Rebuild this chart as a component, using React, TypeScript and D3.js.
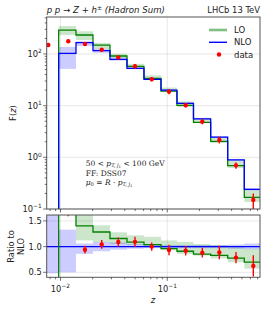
import React from "react";
import * as d3 from "d3";

// bin edges in z (bin 0 lies below 10^-2 and has no NLO prediction)
const zEdges = [0.0066, 0.00962, 0.01397, 0.02015, 0.02907, 0.04195, 0.0605, 0.0873, 0.1232, 0.1759, 0.2549, 0.3677, 0.526, 0.76];
const nloValues = [0, 103, 166, 116, 79, 52.9, 32.4, 20, 11.1, 5.55, 2.45, 0.89, 0.24];
const loValues = [0, 291, 233, 149, 91.5, 57.5, 33.7, 19.2, 10.1, 4.73, 2.03, 0.69, 0.168];
const loBandLow = [0, 233, 186, 126, 83, 54.5, 32.1, 18.6, 9.5, 4.57, 1.89, 0.62, 0.137];
const loBandHigh = [0, 348, 275, 164, 101, 64.5, 38.6, 22.4, 12.1, 5.83, 2.52, 0.88, 0.23];
const nloBandLowRatio = [0.48, 0.5, 0.86, 0.91, 0.94, 0.96, 0.97, 0.97, 0.97, 0.97, 0.97, 0.96, 0.95];
const nloBandHighRatio = [1.7, 1.33, 1.06, 1.09, 1.08, 1.05, 1.04, 1.03, 1.03, 1.03, 1.03, 1.04, 1.06];
const dataZ = [0.00769, 0.01183, 0.01696, 0.02432, 0.03477, 0.04983, 0.07145, 0.1038, 0.1487, 0.2128, 0.3072, 0.4397, 0.6389];
const dataValues = [149, 176, 156, 121, 86, 57.8, 32.4, 18.7, 10.2, 4.9, 2.17, 0.7, 0.15];
const dataRelErr = [0, 0.07, 0.08, 0.08, 0.08, 0.09, 0.08, 0.11, 0.1, 0.11, 0.15, 0.14, 0.33];
const ratioTicks = [0.5, 1.0, 1.5];

const W = 267;
const H = 312;
const left = 46.7;
const right = 260;
const mainTop = 17;
const mainBottom = 209;
const ratioTop = 215;
const ratioBottom = 277.3;

const LO_COLOR = "#008000";
const NLO_COLOR = "#0000ff";
const DATA_COLOR = "#ff0000";
const FONT = "DejaVu Sans";

const x = d3.scaleLog().domain([0.00743, 0.738]).range([left, right]);
const yMain = d3.scaleLog().domain([0.1, 520]).range([mainBottom, mainTop]);
const yRatio = d3.scaleLinear().domain([0.403, 1.615]).range([ratioBottom, ratioTop]);

const isMajor = (v: number) => Math.abs(Math.log10(v) - Math.round(Math.log10(v))) < 1e-6;

function Pow10({ exp, x0, y0, anchor }: { exp: number; x0: number; y0: number; anchor: "end" | "middle" }) {
  return (
    <text x={x0} y={y0} fontSize={8.3} fontFamily={FONT} textAnchor={anchor} fill="#222">
      10<tspan dy={-3.6} fontSize={5.9}>{exp < 0 ? "\u2212" + -exp : exp}</tspan>
    </text>
  );
}

function stepPath(values: number[], y: (v: number) => number) {
  const pts: [number, number][] = values.map((v, i) => [x(zEdges[i]), y(v)]);
  pts.push([x(zEdges[values.length]), y(values[values.length - 1])]);
  return d3.line().curve(d3.curveStepAfter)(pts) || "";
}

export default function App() {
  const safeMain = (v: number) => (v > 0 ? yMain(v) : mainBottom + 30);
  const safeRatio = (v: number) => (isFinite(v) && v > 0 ? yRatio(v) : ratioBottom + 30);

  const loRatio = loValues.map((v, i) => (nloValues[i] > 0 ? v / nloValues[i] : 0));
  const nloRatio = nloValues.map(() => 1);
  const xt = x.ticks();
  const yt = yMain.ticks();

  return (
    <svg width={W} height={H} style={{ position: "absolute", left: 0, top: 0, background: "#fff" }}>
      <defs>
        <clipPath id="clipMain">
          <rect x={left} y={mainTop} width={right - left} height={mainBottom - mainTop} />
        </clipPath>
        <clipPath id="clipRatio">
          <rect x={left} y={ratioTop} width={right - left} height={ratioBottom - ratioTop} />
        </clipPath>
      </defs>

      {/* title */}
      <text x={left} y={13} fontSize={8.6} fontFamily={FONT} fill="#222">
        <tspan fontStyle="italic">p p</tspan> → <tspan fontStyle="italic">Z</tspan> + <tspan fontStyle="italic">h</tspan>
        <tspan dy={-3.2} fontSize={6}>±</tspan>
        <tspan dy={3.2} fontStyle="italic"> (Hadron Sum)</tspan>
      </text>
      <text x={right} y={13} fontSize={8.4} fontFamily={FONT} textAnchor="end" fill="#222">LHCb 13 TeV</text>

      {/* ---------- main panel ---------- */}
      <g>
        {xt.filter(isMajor).map((t) => (
          <line key={"gx" + t} x1={x(t)} x2={x(t)} y1={mainTop} y2={mainBottom} stroke="#b0b0b0" strokeOpacity={0.35} strokeWidth={0.8} />
        ))}
        {yt.filter(isMajor).map((t) => (
          <line key={"gy" + t} x1={left} x2={right} y1={yMain(t)} y2={yMain(t)} stroke="#b0b0b0" strokeOpacity={0.35} strokeWidth={0.8} />
        ))}
        <g clipPath="url(#clipMain)">
          {loValues.map((v, i) =>
            v > 0 ? (
              <rect key={"lob" + i} x={x(zEdges[i])} width={x(zEdges[i + 1]) - x(zEdges[i])} y={yMain(loBandHigh[i])} height={yMain(loBandLow[i]) - yMain(loBandHigh[i])} fill={LO_COLOR} fillOpacity={0.2} />
            ) : null
          )}
          {nloValues.map((v, i) =>
            v > 0 ? (
              <rect key={"nlob" + i} x={x(zEdges[i])} width={x(zEdges[i + 1]) - x(zEdges[i])} y={yMain(v * nloBandHighRatio[i])} height={yMain(v * nloBandLowRatio[i]) - yMain(v * nloBandHighRatio[i])} fill={NLO_COLOR} fillOpacity={0.2} />
            ) : null
          )}
          <path d={stepPath(loValues, safeMain)} fill="none" stroke={LO_COLOR} strokeWidth={1.3} />
          <path d={stepPath(nloValues, safeMain)} fill="none" stroke={NLO_COLOR} strokeWidth={1.3} />
          {dataValues.map((v, i) => (
            <g key={"d" + i}>
              {dataRelErr[i] > 0 && (
                <line x1={x(dataZ[i])} x2={x(dataZ[i])} y1={yMain(v * (1 + dataRelErr[i]))} y2={yMain(v * (1 - dataRelErr[i]))} stroke={DATA_COLOR} strokeWidth={1.4} />
              )}
              <circle cx={x(dataZ[i])} cy={yMain(v)} r={2.2} fill={DATA_COLOR} />
            </g>
          ))}
        </g>
        <rect x={left} y={mainTop} width={right - left} height={mainBottom - mainTop} fill="none" stroke="#555" strokeWidth={1} />
        {xt.map((t) => (
          <line key={"mxt" + t} x1={x(t)} x2={x(t)} y1={mainBottom} y2={mainBottom + (isMajor(t) ? 3.5 : 2)} stroke="#333" strokeWidth={0.7} />
        ))}
        {yt.map((t) => (
          <line key={"myt" + t} x1={left} x2={left - (isMajor(t) ? 3.5 : 2)} y1={yMain(t)} y2={yMain(t)} stroke="#333" strokeWidth={0.7} />
        ))}
        {yt.filter(isMajor).map((t) => (
          <Pow10 key={"myl" + t} exp={Math.round(Math.log10(t))} x0={left - 5} y0={yMain(t) + 3} anchor="end" />
        ))}
        <text transform={`translate(16,113) rotate(-90)`} fontSize={8.4} fontFamily={FONT} textAnchor="middle" fill="#222">
          F(<tspan fontStyle="italic">z</tspan>)
        </text>

        {/* legend */}
        <line x1={209} x2={227} y1={30} y2={30} stroke={LO_COLOR} strokeOpacity={0.5} strokeWidth={2.6} />
        <text x={234} y={33} fontSize={8.5} fontFamily={FONT} fill="#222">LO</text>
        <line x1={209} x2={227} y1={42.3} y2={42.3} stroke={NLO_COLOR} strokeWidth={1.4} />
        <text x={234} y={45.3} fontSize={8.5} fontFamily={FONT} fill="#222">NLO</text>
        <circle cx={219} cy={54.5} r={2.2} fill={DATA_COLOR} />
        <text x={234} y={57.5} fontSize={8.5} fontFamily={FONT} fill="#222">data</text>

        {/* annotation */}
        <g fontFamily="DejaVu Serif" fontSize={7.5} fill="#222">
          <text x={85.7} y={165.8}>
            50 {"<"} <tspan fontStyle="italic">p</tspan>
            <tspan dy={1.5} fontSize={5.1} fontStyle="italic">T, j</tspan>
            <tspan dy={0.8} fontSize={3.8}>1</tspan>
            <tspan dy={-2.3}> {"<"} 100 GeV</tspan>
          </text>
          <text x={85.7} y={175.5}>FF: DSS07</text>
          <text x={85.7} y={184.5}>
            <tspan fontStyle="italic">μ</tspan>
            <tspan dy={1.3} fontSize={5.1}>0</tspan>
            <tspan dy={-1.3}> = </tspan>
            <tspan fontStyle="italic">R</tspan> · <tspan fontStyle="italic">p</tspan>
            <tspan dy={1.5} fontSize={5.1} fontStyle="italic">T, j</tspan>
            <tspan dy={0.8} fontSize={3.8}>1</tspan>
          </text>
        </g>
      </g>

      {/* ---------- ratio panel ---------- */}
      <g>
        {xt.filter(isMajor).map((t) => (
          <line key={"rgx" + t} x1={x(t)} x2={x(t)} y1={ratioTop} y2={ratioBottom} stroke="#b0b0b0" strokeOpacity={0.35} strokeWidth={0.8} />
        ))}
        {ratioTicks.map((t) => (
          <line key={"rgy" + t} x1={left} x2={right} y1={yRatio(t)} y2={yRatio(t)} stroke="#b0b0b0" strokeOpacity={0.35} strokeWidth={0.8} />
        ))}
        <g clipPath="url(#clipRatio)">
          {loValues.map((v, i) =>
            v > 0 ? (
              <rect key={"rlob" + i} x={x(zEdges[i])} width={x(zEdges[i + 1]) - x(zEdges[i])} y={yRatio(loBandHigh[i] / nloValues[i])} height={yRatio(loBandLow[i] / nloValues[i]) - yRatio(loBandHigh[i] / nloValues[i])} fill={LO_COLOR} fillOpacity={0.2} />
            ) : null
          )}
          {nloValues.map((_, i) => (
            <rect key={"rnlob" + i} x={x(zEdges[i])} width={x(zEdges[i + 1]) - x(zEdges[i])} y={yRatio(nloBandHighRatio[i])} height={yRatio(nloBandLowRatio[i]) - yRatio(nloBandHighRatio[i])} fill={NLO_COLOR} fillOpacity={0.2} />
          ))}
          <path d={stepPath(nloRatio, safeRatio)} fill="none" stroke={NLO_COLOR} strokeWidth={1.3} />
          <path d={stepPath(loRatio, safeRatio)} fill="none" stroke={LO_COLOR} strokeWidth={1.3} />
          {dataValues.map((v, i) => {
            if (!(nloValues[i] > 0)) return null;
            const r = v / nloValues[i];
            const e = r * dataRelErr[i];
            return (
              <g key={"rd" + i}>
                <line x1={x(dataZ[i])} x2={x(dataZ[i])} y1={yRatio(r + e)} y2={yRatio(r - e)} stroke={DATA_COLOR} strokeWidth={1.4} />
                <circle cx={x(dataZ[i])} cy={yRatio(r)} r={2.2} fill={DATA_COLOR} />
              </g>
            );
          })}
        </g>
        <rect x={left} y={ratioTop} width={right - left} height={ratioBottom - ratioTop} fill="none" stroke="#555" strokeWidth={1} />
        {xt.map((t) => (
          <line key={"rxt" + t} x1={x(t)} x2={x(t)} y1={ratioBottom} y2={ratioBottom + (isMajor(t) ? 3.5 : 2)} stroke="#333" strokeWidth={0.7} />
        ))}
        {xt.filter(isMajor).map((t) => (
          <Pow10 key={"rxl" + t} exp={Math.round(Math.log10(t))} x0={x(t)} y0={291.5} anchor="middle" />
        ))}
        {ratioTicks.map((t) => (
          <g key={"ryt" + t}>
            <line x1={left} x2={left - 3.5} y1={yRatio(t)} y2={yRatio(t)} stroke="#333" strokeWidth={0.7} />
            <text x={left - 5} y={yRatio(t) + 3} fontSize={8.3} fontFamily={FONT} textAnchor="end" fill="#222">{t.toFixed(1)}</text>
          </g>
        ))}
        <text transform={`translate(14,246.5) rotate(-90)`} fontSize={8.4} fontFamily={FONT} textAnchor="middle" fill="#222">Ratio to</text>
        <text transform={`translate(23.5,246.5) rotate(-90)`} fontSize={8.4} fontFamily={FONT} textAnchor="middle" fill="#222">NLO</text>
        <text x={153} y={303} fontSize={8.6} fontFamily={FONT} fontStyle="italic" textAnchor="middle" fill="#222">z</text>
      </g>
    </svg>
  );
}
